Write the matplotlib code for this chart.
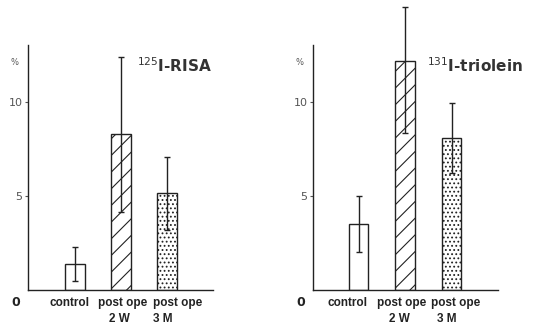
import matplotlib
matplotlib.use("Agg")
import matplotlib.pyplot as plt

plt.rcParams["hatch.linewidth"] = 0.8

groups = ["control", "post ope", "post ope"]
periods = ["", "2 W", "3 M"]
hatches = ["", "//", "...."]

# 125I-RISA
risa_mean = [1.4, 8.3, 5.15]
risa_err_low = [0.9, 4.15, 1.95]
risa_err_high = [0.9, 4.1, 1.9]

# 131I-triolein
triolein_mean = [3.5, 12.2, 8.1]
triolein_err_low = [1.5, 3.85, 1.9]
triolein_err_high = [1.5, 2.85, 1.85]

W, H = 533, 327
INK = "#222222"
LABEL_FONT = "Liberation Sans"


def px_axes(fig, left, right, top, bottom):
    return fig.add_axes([left / W, (H - bottom) / H, (right - left) / W, (bottom - top) / H])


def draw_panel(ax, means, err_low, err_high, title, xlim, title_x, shift1, shift2):
    x = list(range(len(means)))
    ax.bar(x, means, width=0.43, color="white", edgecolor=INK, linewidth=1.0,
           hatch=hatches, zorder=2)
    eb = ax.errorbar(x, means, yerr=[err_low, err_high], fmt="none", ecolor=INK,
                     elinewidth=1.0, capsize=2.5, capthick=1.0, zorder=3)
    for part in eb.lines:
        items = part if isinstance(part, tuple) else [part]
        for art in items:
            if art is not None:
                art.set_clip_on(False)
    ax.set_xlim(*xlim)
    ax.set_ylim(0, 245 / 18.8)
    for side in ("top", "right"):
        ax.spines[side].set_visible(False)
    for side in ("left", "bottom"):
        ax.spines[side].set_color(INK)
        ax.spines[side].set_linewidth(1.0)
    ax.set_yticks([5, 10])
    ax.set_yticklabels(["5", "10"])
    ax.tick_params(axis="y", length=2, width=0.8, pad=2, labelsize=8, colors="#555555")
    ax.set_xticks([])

    # two-line category labels under the bars
    for i in x:
        ax.text(i + shift1[i], -0.052, groups[i], transform=ax.get_xaxis_transform(),
                ha="center", va="center", fontsize=8.5, fontweight="bold",
                family=LABEL_FONT, color=INK)
        if periods[i]:
            ax.text(i + shift2[i], -0.118, periods[i], transform=ax.get_xaxis_transform(),
                    ha="center", va="center", fontsize=8.5, fontweight="bold",
                    family=LABEL_FONT, color=INK)

    ax.text(-0.05, 0.93, "%", transform=ax.transAxes, fontsize=6, color="#555555",
            ha="right", va="center")
    ax.text(-0.045, -0.05, "0", transform=ax.transAxes, fontsize=9, fontweight="bold",
            color=INK, ha="right", va="center")
    ax.text(title_x, 0.915, title, transform=ax.transAxes, fontsize=11,
            fontweight="bold", color="#333333", ha="left", va="center")


fig = plt.figure(figsize=(W / 100, H / 100), dpi=100)
fig.patch.set_facecolor("white")

ax1 = px_axes(fig, 28, 213, 45, 290)
draw_panel(ax1, risa_mean, risa_err_low, risa_err_high,
           r"$^{125}$I-RISA", (-47 / 46, 138 / 46), 0.59,
           [-0.13, 0.04, 0.24], [0, -0.04, -0.09])

ax2 = px_axes(fig, 313, 498, 45, 290)
draw_panel(ax2, triolein_mean, triolein_err_low, triolein_err_high,
           r"$^{131}$I-triolein", (-45.5 / 46.5, 139.5 / 46.5), 0.615,
           [-0.24, -0.08, 0.09], [0, -0.12, -0.1])

fig.savefig("out.png", dpi=100, facecolor="white")
